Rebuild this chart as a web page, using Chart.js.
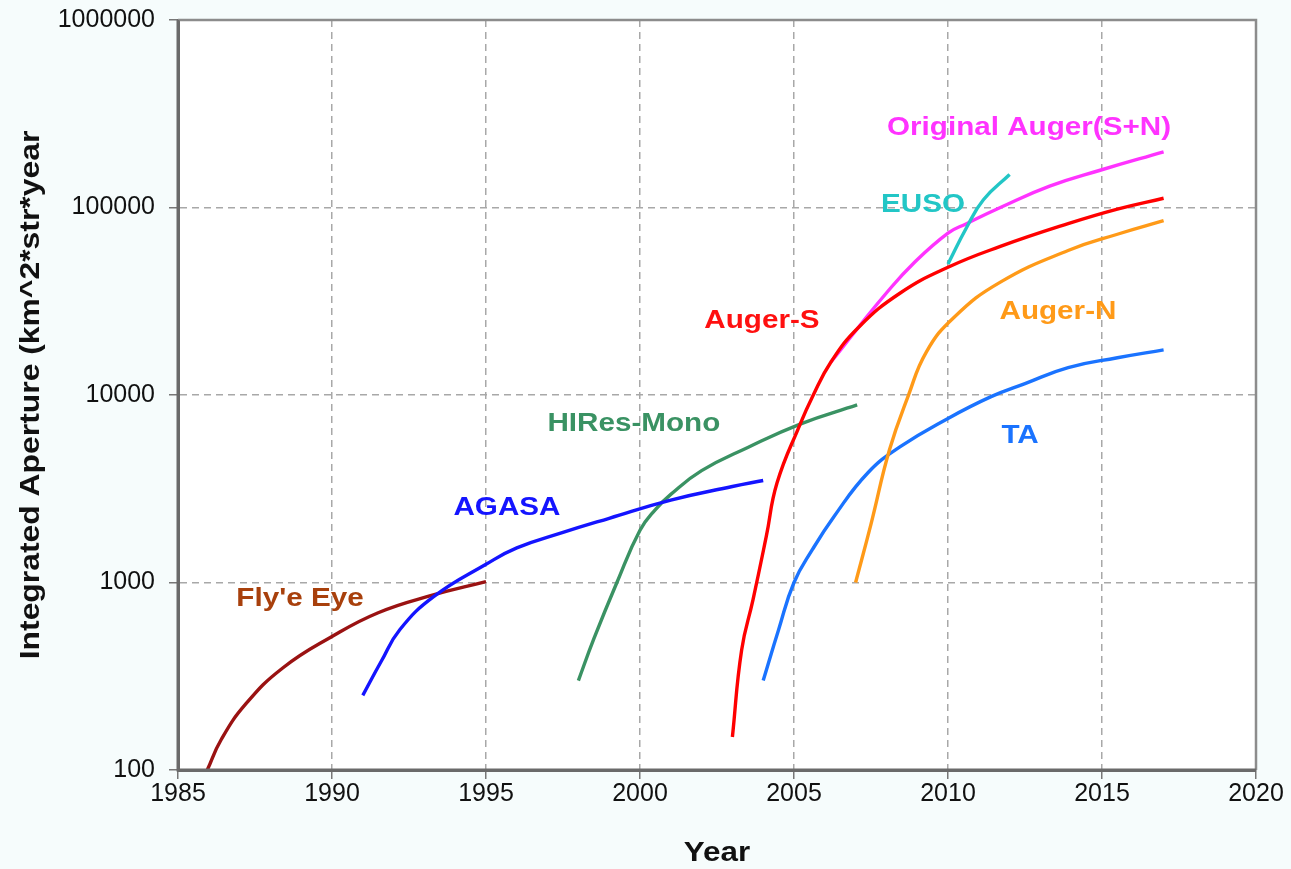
<!DOCTYPE html>
<html>
<head>
<meta charset="utf-8">
<script src="https://cdn.jsdelivr.net/npm/chart.js@4.4.1/dist/chart.umd.min.js"></script>
<style>
  html, body { margin: 0; padding: 0; background: #f6fcfc; }
  #wrap { width: 1291px; height: 869px; position: relative; }
</style>
</head>
<body>
<div id="wrap"><canvas id="apertureChart"></canvas></div>
<script>
// integrated aperture (km^2*str*year) vs year
const flyYears   = [1985.95, 1986.4, 1987.2, 1988.4, 1990, 1991.5, 1993.2, 1995];
const flyVals    = [100, 145, 225, 350, 515, 690, 850, 1010];

const agasaYears = [1991, 1991.6, 1992.2, 1993.3, 1995, 1996, 1997.5, 1999, 2001, 2003, 2004];
const agasaVals  = [250, 380, 560, 840, 1250, 1530, 1850, 2200, 2750, 3250, 3500];

const hiresYears = [1998, 1998.5, 1999.25, 2000, 2000.5, 2001, 2002, 2003.5, 2005.2, 2007.05];
const hiresVals  = [300, 500, 1000, 1900, 2450, 2950, 3950, 5250, 7000, 8850];

const augerSYears = [2003, 2003.3, 2003.67, 2004.1, 2004.45, 2005.2, 2005.6, 2006.2, 2007.1, 2008.45, 2010, 2011.7, 2013.9, 2015.5, 2017];
const augerSVals  = [150, 437, 810, 1760, 3400, 7000, 9800, 15000, 23000, 35000, 48000, 62000, 82000, 98000, 112000];

const augerAllYears = [2006.2, 2007.05, 2008, 2008.86, 2010, 2010.6, 2011.7, 2013.3, 2014.94, 2017];
const augerAllVals  = [15000, 22500, 35000, 50000, 73000, 82000, 100000, 130000, 158000, 198000];

const eusoYears = [2010, 2010.6, 2011.15, 2012];
const eusoVals  = [50000, 78000, 110000, 150000];

const augerNYears = [2007, 2007.5, 2008.1, 2008.7, 2009.3, 2010.2, 2011.7, 2013.9, 2015.5, 2017];
const augerNVals  = [1000, 2050, 5100, 9800, 17000, 26000, 40000, 59000, 72000, 85000];

const taYears = [2004, 2004.5, 2005, 2005.6, 2006.3, 2007.4, 2008.45, 2010, 2011.4, 2012.5, 2013.9, 2015.5, 2017];
const taVals  = [300, 560, 1000, 1500, 2250, 3850, 5300, 7500, 9800, 11500, 14000, 15800, 17400];

// axis ticks
const xTicks = [1985, 1990, 1995, 2000, 2005, 2010, 2015, 2020];
const yTicks = [100, 1000, 10000, 100000, 1000000];

// text labels placed in data coordinates (centre)
const labelTexts  = ["Fly'e Eye", 'AGASA', 'HIRes-Mono', 'Auger-S', 'Auger-N', 'TA', 'EUSO', 'Original Auger(S+N)'];
const labelYears  = [1988.96, 1995.68, 1999.8, 2003.96, 2013.57, 2012.34, 2009.19, 2012.63];
const labelValues = [817, 2495, 7000, 24800, 27700, 6040, 103000, 265000];
const labelColors = ['#a8400c', '#1414ff', '#3a9263', '#ff1010', '#ff9a18', '#1a73ff', '#22c6c6', '#ff33ff'];

const xTitle = 'Year';
const yTitle = 'Integrated Aperture (km^2*str*year';

function toPoints(xs, ys) {
    return xs.map((x, i) => ({ x: x, y: ys[i] }));
}

function lineSet(label, xs, ys, color, order) {
    return {
        label: label,
        data: toPoints(xs, ys),
        borderColor: color,
        borderWidth: 3.4,
        pointRadius: 0,
        fill: false,
        tension: 0.45,
        order: order
    };
}

const datasets = [
    lineSet("Fly'e Eye", flyYears, flyVals, '#9a1212', 5),
    lineSet('AGASA', agasaYears, agasaVals, '#1414ff', 4),
    lineSet('HIRes-Mono', hiresYears, hiresVals, '#3a9263', 6),
    lineSet('Auger-S', augerSYears, augerSVals, '#ff0000', 1),
    lineSet('Original Auger(S+N)', augerAllYears, augerAllVals, '#ff33ff', 3),
    lineSet('EUSO', eusoYears, eusoVals, '#22c6c6', 2),
    lineSet('Auger-N', augerNYears, augerNVals, '#ff9a18', 3),
    lineSet('TA', taYears, taVals, '#1a73ff', 3)
];

const FONT = "'Liberation Sans', Arial, sans-serif";

function stretchedText(ctx, text, x, y, sx, angle) {
    ctx.save();
    ctx.translate(x, y);
    if (angle) ctx.rotate(angle);
    ctx.scale(sx, 1);
    ctx.fillText(text, 0, 0);
    ctx.restore();
}

// white plot area, frame, axis titles and series labels
const plotDecor = {
    id: 'plotDecor',
    beforeDatasetsDraw(chart) {
        const { ctx, chartArea: a } = chart;
        ctx.save();
        ctx.globalCompositeOperation = 'destination-over';
        ctx.fillStyle = '#ffffff';
        ctx.fillRect(a.left, a.top, a.right - a.left, a.bottom - a.top);
        ctx.restore();
    },
    afterDraw(chart) {
        const { ctx, chartArea: a, scales: { x, y } } = chart;
        ctx.save();
        ctx.setLineDash([]);
        ctx.strokeStyle = '#8c8c8c';
        ctx.lineWidth = 2.5;
        ctx.beginPath();
        ctx.moveTo(a.left, a.top);
        ctx.lineTo(a.right, a.top);
        ctx.lineTo(a.right, a.bottom);
        ctx.stroke();
        ctx.strokeStyle = '#6a6a6a';
        ctx.lineWidth = 3;
        ctx.beginPath();
        ctx.moveTo(a.left, a.top);
        ctx.lineTo(a.left, a.bottom);
        ctx.lineTo(a.right, a.bottom);
        ctx.stroke();

        ctx.textAlign = 'center';
        ctx.textBaseline = 'middle';
        ctx.fillStyle = '#111';
        ctx.font = 'bold 28px ' + FONT;
        stretchedText(ctx, xTitle, (a.left + a.right) / 2, 853, 1.12, 0);
        ctx.font = 'bold 27px ' + FONT;
        stretchedText(ctx, yTitle, 32, (a.top + a.bottom) / 2, 1.18, -Math.PI / 2);

        ctx.font = 'bold 26px ' + FONT;
        labelTexts.forEach((t, i) => {
            ctx.fillStyle = labelColors[i];
            stretchedText(ctx, t, x.getPixelForValue(labelYears[i]), y.getPixelForValue(labelValues[i]), 1.14, 0);
        });
        ctx.restore();
    }
};

new Chart(document.getElementById('apertureChart'), {
    type: 'line',
    data: { datasets },
    options: {
        responsive: true,
        maintainAspectRatio: false,
        animation: false,
        layout: { padding: { left: 18, right: 35, top: 20, bottom: 0 } },
        plugins: { legend: { display: false }, tooltip: { enabled: false } },
        scales: {
            x: {
                type: 'linear',
                min: 1985,
                max: 2020,
                afterBuildTicks: (s) => { s.ticks = xTicks.map(v => ({ value: v })); },
                afterFit: (s) => { s.height = 99; s.paddingLeft = 0; s.paddingRight = 0; },
                ticks: {
                    color: '#111',
                    font: { family: FONT, size: 25 },
                    padding: 0,
                    maxRotation: 0,
                    callback: (v) => String(v)
                },
                grid: { color: '#a8a8a8', lineWidth: 1.5, tickLength: 9, tickColor: '#777', tickBorderDash: [] },
                border: { display: true, color: '#6a6a6a', width: 3, dash: [7, 5] }
            },
            y: {
                type: 'logarithmic',
                min: 100,
                max: 1000000,
                afterBuildTicks: (s) => { s.ticks = yTicks.map(v => ({ value: v })); },
                afterFit: (s) => { s.width = 160; s.paddingTop = 0; s.paddingBottom = 0; },
                ticks: {
                    color: '#111',
                    font: { family: FONT, size: 25 },
                    padding: 14,
                    callback: (v) => String(v)
                },
                grid: { color: '#a8a8a8', lineWidth: 1.5, tickLength: 9, tickColor: '#777', tickBorderDash: [] },
                border: { display: true, color: '#6a6a6a', width: 3, dash: [7, 5] }
            }
        }
    },
    plugins: [plotDecor]
});
</script>
</body>
</html>
